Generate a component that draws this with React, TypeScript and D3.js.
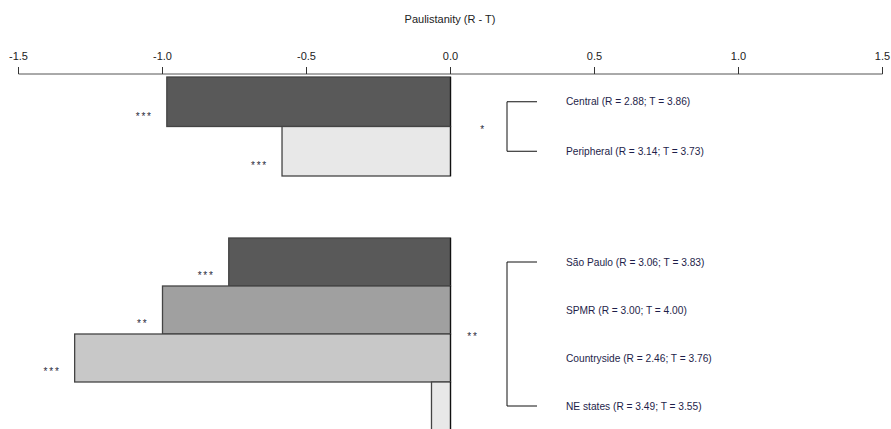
import React from "react";
import * as d3 from "d3";

const groups = [0, 0, 1, 1, 1, 1];
const categories = ["Central", "Peripheral", "São Paulo", "SPMR", "Countryside", "NE states"];
const rValues = [2.88, 3.14, 3.06, 3.0, 2.46, 3.49];
const tValues = [3.86, 3.73, 3.83, 4.0, 3.76, 3.55];
const diffValues = [-0.985, -0.585, -0.77, -1.0, -1.305, -0.066];
const barStars = ["***", "***", "***", "**", "***", ""];
const groupStars = ["*", "**"];
const tickValues = [-1.5, -1.0, -0.5, 0.0, 0.5, 1.0, 1.5];
const fills = ["#595959", "#e8e8e8", "#595959", "#a0a0a0", "#c8c8c8", "#e8e8e8"];

export default function App() {
  const W = 891, H = 429;
  const x = d3.scaleLinear().domain([-1.5, 1.5]).range([18.5, 882.5]);
  const fmt = (t: number) => d3.format(".1f")(t).replace("\u2212", "-");
  const axisY = 74;
  const top = 77;
  const band0 = 49.5;
  const band1 = 48;
  const group2Top = 238;
  const yStart = (i: number) => {
    const g = groups[i];
    const idx = groups.slice(0, i).filter((v) => v === g).length;
    return g === 0 ? top + idx * band0 : group2Top + idx * band1;
  };
  const bandH = (i: number) => (groups[i] === 0 ? band0 : band1);
  const font = "Liberation Sans, Arial, sans-serif";
  const bracketX = 507;
  const groupStarX = [483, 473];
  return (
    <svg width={W} height={H} style={{ position: "absolute", left: 0, top: 0, background: "#fff" }}>
      <text x={450} y={23} textAnchor="middle" fontFamily={font} fontSize={11} fill="#222">
        Paulistanity (R - T)
      </text>
      <line x1={x(-1.5)} x2={x(1.5)} y1={axisY} y2={axisY} stroke="#555" strokeWidth={1} />
      {tickValues.map((t) => (
        <g key={t}>
          <line x1={x(t)} x2={x(t)} y1={axisY - 7} y2={axisY} stroke="#333" strokeWidth={1} />
          <text x={x(t)} y={60} textAnchor="middle" fontFamily={font} fontSize={11} fill="#222">
            {fmt(t)}
          </text>
        </g>
      ))}
      {diffValues.map((v, i) => {
        const y0 = yStart(i);
        const h = bandH(i);
        return (
          <g key={categories[i]}>
            <rect
              x={x(Math.min(0, v))}
              y={y0}
              width={Math.abs(x(v) - x(0))}
              height={h}
              fill={fills[i]}
              stroke="#444"
              strokeWidth={1.3}
            />
            <line x1={x(0)} x2={x(0)} y1={y0} y2={y0 + h} stroke="#111" strokeWidth={1.2} />
            {barStars[i] && (
              <text
                x={x(v) - 14}
                y={y0 + h - 7}
                textAnchor="end"
                fontFamily={font}
                fontSize={10}
                letterSpacing={1.8}
                fill="#2a2a3a"
              >
                {barStars[i]}
              </text>
            )}
            <text
              x={566}
              y={y0 + h / 2 + 3.5}
              fontFamily={font}
              fontSize={10.2}
              fill="#1e1e4a"
            >
              {`${categories[i]} (R = ${rValues[i].toFixed(2)}; T = ${tValues[i].toFixed(2)})`}
            </text>
          </g>
        );
      })}
      {groupStars.map((s, g) => {
        const idxs = groups.map((v, i) => (v === g ? i : -1)).filter((i) => i >= 0);
        const yA = yStart(idxs[0]) + bandH(idxs[0]) / 2;
        const last = idxs[idxs.length - 1];
        const yB = yStart(last) + bandH(last) / 2;
        return (
          <g key={g}>
            <path
              d={`M${bracketX + 30},${yA}H${bracketX}V${yB}H${bracketX + 30}`}
              fill="none"
              stroke="#111"
              strokeWidth={1}
            />
            <text
              x={groupStarX[g]}
              y={(yA + yB) / 2 + 6}
              textAnchor="middle"
              fontFamily={font}
              fontSize={10}
              letterSpacing={1.8}
              fill="#2a2a3a"
            >
              {s}
            </text>
          </g>
        );
      })}
    </svg>
  );
}
